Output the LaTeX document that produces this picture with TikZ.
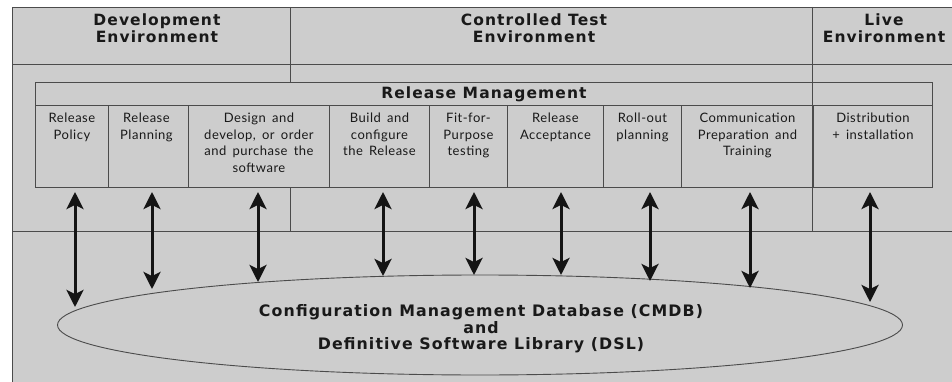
\documentclass[tikz,border=0pt]{standalone}
\usepackage{fontspec}
\setmainfont{Lato}
\newfontfamily\headfont{DejaVu Sans}[LetterSpace=7]
\newfontfamily\cellfont{Lato}[LetterSpace=4,WordSpace=1.6]
\usetikzlibrary{arrows.meta,calc,shapes.geometric}
\definecolor{bg}{RGB}{205,205,205}
\definecolor{ln}{RGB}{75,75,75}
\definecolor{tx}{RGB}{25,25,25}
\begin{document}
\begin{tikzpicture}[x=1pt,y=-1pt,
  frame/.style={draw=ln,line width=0.9pt},
  cellbox/.style={draw=ln,line width=0.9pt,fill=bg,minimum height=82,anchor=north west,inner sep=0},
  celltxt/.style={align=center,anchor=north,inner sep=0,text=tx,font=\cellfont\fontsize{13}{16.6}\selectfont},
  envtxt/.style={align=center,inner sep=0,text=tx,font=\headfont\bfseries\fontsize{15.5}{17}\selectfont},
  link/.style={line width=3pt,draw=black!92,{Stealth[length=17pt,width=17pt,inset=4pt]}-{Stealth[length=17pt,width=17pt,inset=4pt]}}
]
\useasboundingbox (0,0) rectangle (952,382);
\fill[white] (0,0) rectangle (952,382);
\fill[bg] (12,7) rectangle (952,382);
% frame lines
\draw[frame] (12,382) -- (12,7) -- (952,7);
\draw[frame] (12,64) -- (952,64);
\draw[frame] (12,231) -- (952,231);
\draw[frame] (290,7) -- (290,231);
% environment titles
\node[envtxt] (dev) at (157,28) {Development\\Environment};
\node[envtxt] (ctl) at (534,28) {Controlled Test\\Environment};
\node[envtxt] (live) at (884,28) {Live\\Environment};
% release management box
\node[cellbox,minimum width=897,minimum height=23,text=tx,font=\headfont\bfseries\fontsize{15.5}{18}\selectfont] (rm) at (35,82) {Release Management};
\node[cellbox,minimum width=73] (c1) at (35,105) {};
\node[cellbox,minimum width=80] (c2) at (108,105) {};
\node[cellbox,minimum width=141] (c3) at (188,105) {};
\node[cellbox,minimum width=100] (c4) at (329,105) {};
\node[cellbox,minimum width=78] (c5) at (429,105) {};
\node[cellbox,minimum width=96] (c6) at (507,105) {};
\node[cellbox,minimum width=78] (c7) at (603,105) {};
\node[cellbox,minimum width=132] (c8) at (681,105) {};
\node[cellbox,minimum width=119] (c9) at (813,105) {};
\node[celltxt] (t1) at ($(c1.north)+(0,8)$) {Release\\Policy};
\node[celltxt] (t2) at ($(c2.north)+(-2,8)$) {Release\\Planning};
\node[celltxt] (t3) at ($(c3.north)+(0,8)$) {Design and\\develop, or order\\and purchase the\\software};
\node[celltxt] (t4) at ($(c4.north)+(0,8)$) {Build and\\configure\\the Release};
\node[celltxt] (t5) at ($(c5.north)+(0,8)$) {Fit-for-\\Purpose\\testing};
\node[celltxt] (t6) at ($(c6.north)+(0,8)$) {Release\\Acceptance};
\node[celltxt] (t7) at ($(c7.north)+(0,8)$) {Roll-out\\planning};
\node[celltxt] (t8) at ($(c8.north)+(0,8)$) {Communication\\Preparation and\\Training};
\node[celltxt] (t9) at ($(c9.north)+(0,8)$) {Distribution\\+ installation};
\draw[frame] (812,7) -- (812,231);
% database
\node[ellipse,draw=ln,line width=0.9pt,fill=bg,minimum width=845,minimum height=100,inner sep=0] (db) at (480,325) {};
\node[align=center,inner sep=0,text=tx,font=\headfont\bfseries\fontsize{15.8}{16.5}\selectfont] (dbt) at (481,329) {Configuration Management Database (CMDB)\\and\\Definitive Software Library (DSL)};
% arrow end points
\coordinate (a1) at (75,192);  \coordinate (b1) at (75,307);
\coordinate (a2) at (152,192); \coordinate (b2) at (152,289);
\coordinate (a3) at (258,192); \coordinate (b3) at (258,282);
\coordinate (a4) at (383,192); \coordinate (b4) at (383,276);
\coordinate (a5) at (474,192); \coordinate (b5) at (474,275);
\coordinate (a6) at (561,192); \coordinate (b6) at (561,275);
\coordinate (a7) at (650,192); \coordinate (b7) at (650,281);
\coordinate (a8) at (750,192); \coordinate (b8) at (750,288);
\coordinate (a9) at (870,192); \coordinate (b9) at (870,302);
\foreach \i in {1,...,9} {\draw[link] (a\i) -- (b\i);}
\end{tikzpicture}
\end{document}
